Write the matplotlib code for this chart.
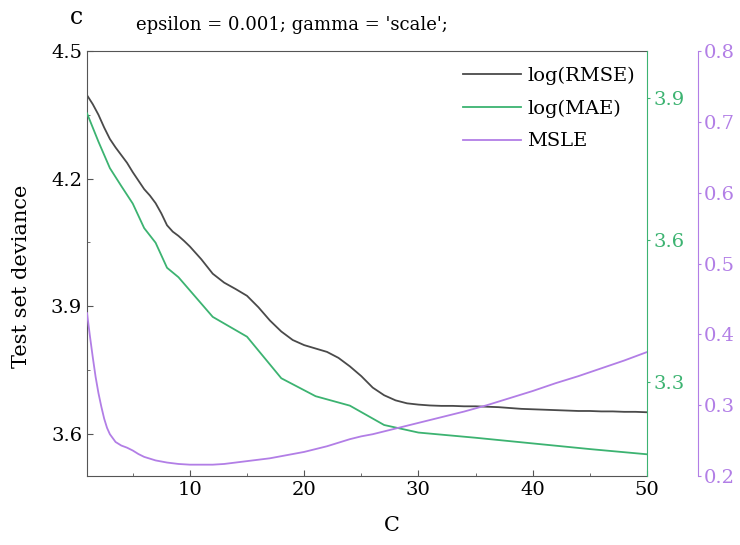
import matplotlib
matplotlib.use('Agg')
from matplotlib import pyplot as plt
from matplotlib.ticker import MultipleLocator, FixedLocator

# log(RMSE) on the left axis
c_rmse = [1, 1.5, 2, 2.5, 3, 3.5, 4, 4.5, 5, 5.5, 6, 6.5, 7, 7.5, 8, 8.5, 9, 9.5, 10,
          11, 12, 13, 14, 15, 16, 17, 18, 19, 20, 21, 22, 23, 24, 25, 26, 27, 28,
          29, 30, 31, 32, 33, 34, 35, 36, 37, 38, 39, 40, 41, 42, 43, 44, 45, 46,
          47, 48, 49, 50]
log_rmse = [4.396, 4.375, 4.350, 4.320, 4.293, 4.273, 4.255, 4.237, 4.215, 4.195,
            4.175, 4.160, 4.142, 4.118, 4.090, 4.075, 4.065, 4.053, 4.040,
            4.010, 3.976, 3.955, 3.940, 3.924, 3.897, 3.866, 3.840, 3.820, 3.808,
            3.800, 3.792, 3.778, 3.758, 3.735, 3.708, 3.690, 3.678, 3.671, 3.668,
            3.666, 3.665, 3.665, 3.664, 3.664, 3.663, 3.662, 3.660, 3.658, 3.657,
            3.656, 3.655, 3.654, 3.653, 3.653, 3.652, 3.652, 3.651, 3.651, 3.650]

# log(MAE) on the green axis
c_mae = [1, 2, 3, 4, 5, 6, 7, 8, 9, 12, 15, 18, 21, 24, 27, 30, 35, 40, 45, 50]
log_mae = [3.868, 3.808, 3.752, 3.714, 3.677, 3.625, 3.594, 3.541, 3.521, 3.437,
           3.395, 3.307, 3.269, 3.249, 3.208, 3.192, 3.181, 3.169, 3.157, 3.146]

# MSLE on the purple axis
c_msle = [1, 1.25, 1.5, 1.75, 2, 2.25, 2.5, 2.75, 3, 3.5, 4, 4.5, 5, 5.5, 6, 7, 8,
          9, 10, 11, 12, 13, 14, 15, 16, 17, 18, 19, 20, 21, 22, 23, 24, 25, 26,
          27, 28, 29, 30, 32, 34, 36, 38, 40, 42, 44, 46, 48, 50]
msle = [0.430, 0.398, 0.368, 0.340, 0.317, 0.298, 0.281, 0.268, 0.259, 0.248,
        0.243, 0.240, 0.236, 0.231, 0.227, 0.222, 0.219, 0.217, 0.216,
        0.216, 0.216, 0.217, 0.219, 0.221, 0.223, 0.225, 0.228, 0.231, 0.234,
        0.238, 0.242, 0.247, 0.252, 0.256, 0.259, 0.263, 0.267, 0.271, 0.275,
        0.283, 0.291, 0.300, 0.310, 0.320, 0.331, 0.341, 0.352, 0.363, 0.375]

BLACK = '#4a4a4a'
GREEN = '#3cb371'
PURPLE = '#b27ee6'
FRAME = '#555555'


def main():
    plt.rcParams['font.family'] = ['DejaVu Serif']
    fig = plt.figure(figsize=(7.4, 5.45), dpi=100)
    ax = fig.add_axes([0.1176, 0.1266, 0.7567, 0.7798])
    ax_mae = ax.twinx()
    ax_msle = ax.twinx()

    l1, = ax.plot(c_rmse, log_rmse, color=BLACK, lw=1.3, label='log(RMSE)')
    l2, = ax_mae.plot(c_mae, log_mae, color=GREEN, lw=1.3, label='log(MAE)')
    l3, = ax_msle.plot(c_msle, msle, color=PURPLE, lw=1.3, label='MSLE')

    ax.set_xlim(1, 50)
    ax.set_ylim(3.5, 4.5)
    ax_mae.set_ylim(3.1, 4.0)
    ax_msle.set_ylim(0.2, 0.8)

    # main frame: ticks pointing inward
    ax.xaxis.set_major_locator(FixedLocator([10, 20, 30, 40, 50]))
    ax.xaxis.set_minor_locator(FixedLocator([5, 15, 25, 35, 45]))
    ax.yaxis.set_major_locator(FixedLocator([3.6, 3.9, 4.2, 4.5]))
    ax.yaxis.set_minor_locator(FixedLocator([3.75, 4.05, 4.35]))
    ax.tick_params(which='both', direction='in', colors=FRAME, labelcolor='black',
                   labelsize=14, top=False, right=False)
    ax.tick_params(which='major', length=4)
    ax.tick_params(which='minor', length=2.5)
    for side in ['left', 'bottom', 'top']:
        ax.spines[side].set_color(FRAME)
    ax.spines['right'].set_visible(False)

    ax_mae.spines['right'].set_color(GREEN)
    for side in ['left', 'bottom', 'top']:
        ax_mae.spines[side].set_visible(False)
    ax_mae.yaxis.set_major_locator(FixedLocator([3.3, 3.6, 3.9]))
    ax_mae.tick_params(axis='y', direction='out', colors=GREEN, labelsize=14,
                       length=2.5, pad=2)

    # 51 px outside the frame (points at 100 dpi)
    ax_msle.spines['right'].set_position(('outward', 51 * 0.72))
    ax_msle.spines['right'].set_color(PURPLE)
    for side in ['left', 'bottom', 'top']:
        ax_msle.spines[side].set_visible(False)
    ax_msle.yaxis.set_major_locator(MultipleLocator(0.1))
    ax_msle.tick_params(axis='y', direction='out', colors=PURPLE, labelsize=14,
                        length=2.5, pad=2)

    ax.set_xlabel('C', fontsize=15)
    ax.xaxis.set_label_coords(0.545, -0.095)
    ax.set_ylabel('Test set deviance', fontsize=15)
    ax.yaxis.set_label_coords(-0.10, 0.47)

    leg = ax.legend(handles=[l1, l2, l3], loc='upper right', frameon=False,
                    fontsize=14, handlelength=3.0, handletextpad=0.3,
                    labelspacing=0.75, borderpad=0, borderaxespad=0,
                    bbox_to_anchor=(0.978, 0.963))
    leg.set_zorder(5)

    fig.text(0.395, 0.955, "epsilon = 0.001; gamma = 'scale';", fontsize=13,
             ha='center', va='center')
    fig.text(0.103, 0.968, 'c', fontsize=17, ha='center', va='center')

    fig.savefig('out.png', dpi=100)


if __name__ == '__main__':
    main()
